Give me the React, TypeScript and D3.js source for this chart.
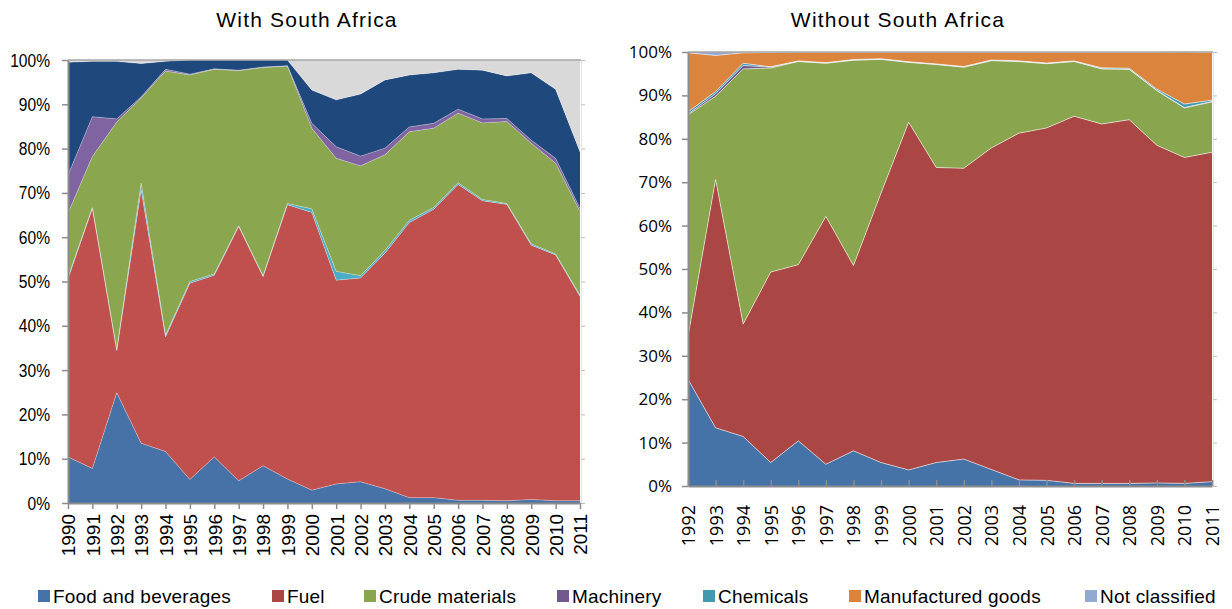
import React, { useEffect, useRef } from 'react';
import * as d3 from 'd3';

// years on the two x axes
const yearsWith = [1990, 1991, 1992, 1993, 1994, 1995, 1996, 1997, 1998, 1999, 2000,
  2001, 2002, 2003, 2004, 2005, 2006, 2007, 2008, 2009, 2010, 2011];
const yearsWithout = [1992, 1993, 1994, 1995, 1996, 1997, 1998, 1999, 2000,
  2001, 2002, 2003, 2004, 2005, 2006, 2007, 2008, 2009, 2010, 2011];
const yTicks = [0, 10, 20, 30, 40, 50, 60, 70, 80, 90, 100];

// shares (%) - with South Africa
const foodWith = [10.4, 7.8, 24.9, 13.5, 11.6, 5.3, 10.4, 5.0, 8.4, 5.4, 2.9, 4.3, 4.8, 3.2, 1.2, 1.2, 0.6, 0.6, 0.5, 0.8, 0.5, 0.5];
const fuelWith = [40.2, 58.7, 9.5, 57.2, 25.9, 44.3, 41.0, 57.4, 42.7, 61.9, 62.7, 46.0, 46.0, 53.2, 62.1, 65.1, 71.3, 67.6, 66.9, 57.4, 55.5, 46.1];
const chemWith = [0.4, 0.2, 0.2, 1.5, 0.4, 0.4, 0.3, 0.2, 0.2, 0.3, 0.8, 2.0, 0.5, 0.6, 0.5, 0.4, 0.4, 0.3, 0.2, 0.3, 0.2, 0.3];
const crudeWith = [14.4, 11.5, 51.4, 19.2, 59.6, 46.6, 46.2, 35.0, 47.0, 31.0, 18.2, 25.5, 24.8, 21.6, 20.0, 17.9, 15.7, 17.3, 18.5, 22.7, 20.5, 18.9];
const machWith = [8.6, 9.0, 0.7, 0.3, 0.4, 0.2, 0.1, 0.1, 0.1, 0.1, 1.1, 2.6, 2.2, 1.5, 1.1, 1.1, 0.9, 0.9, 0.7, 0.7, 1.1, 0.7];
const manufWith = [25.5, 12.5, 13.0, 7.5, 1.8, 3.2, 2.0, 2.3, 1.6, 1.3, 7.5, 10.6, 14.0, 15.4, 11.7, 11.4, 9.0, 11.0, 9.6, 15.2, 15.6, 12.8];
const otherWith = [0.5, 0.3, 0.3, 0.8, 0.3, 0, 0, 0, 0, 0, 6.8, 9.0, 7.7, 4.5, 3.4, 2.9, 2.1, 2.3, 3.6, 2.9, 6.6, 20.7];

// shares (%) - without South Africa
const foodWithout = [24.6, 13.4, 11.4, 5.4, 10.4, 5.0, 8.1, 5.4, 3.7, 5.4, 6.2, 3.8, 1.4, 1.3, 0.6, 0.6, 0.6, 0.7, 0.6, 1.0];
const fuelWithout = [9.8, 57.2, 25.9, 43.9, 40.6, 57.1, 42.7, 62.1, 80.1, 68.0, 67.0, 74.1, 79.9, 81.2, 84.6, 82.8, 83.8, 77.8, 75.1, 75.9];
const crudeWithout = [51.1, 19.2, 58.8, 47.0, 46.8, 35.3, 47.3, 30.8, 13.8, 23.7, 23.3, 20.1, 16.5, 14.8, 12.6, 12.7, 11.6, 12.6, 11.4, 11.6];
const machWithout = [0.2, 0.6, 0.8, 0.2, 0.05, 0.05, 0.05, 0.05, 0.05, 0.05, 0.05, 0.05, 0.05, 0.05, 0.05, 0.05, 0.05, 0.05, 0.1, 0.1];
const chemWithout = [0.5, 0.5, 0.5, 0.1, 0.1, 0.1, 0.1, 0.1, 0.1, 0.1, 0.1, 0.1, 0.1, 0.1, 0.1, 0.2, 0.2, 0.3, 0.8, 0.3];
const manufWithout = [13.6, 8.3, 2.4, 3.3, 2.0, 2.4, 1.7, 1.5, 2.2, 2.7, 3.3, 1.8, 2.0, 2.5, 2.0, 3.6, 3.7, 8.5, 12.0, 11.0];
const otherWithout = [0.2, 0.8, 0.2, 0.1, 0.05, 0.05, 0.05, 0.05, 0.05, 0.05, 0.05, 0.05, 0.05, 0.05, 0.05, 0.05, 0.05, 0.05, 0.05, 0.05];

const legendNames = ['Food and beverages', 'Fuel', 'Crude materials', 'Machinery', 'Chemicals', 'Manufactured goods', 'Not classified'];
const legendColors = ['#4572a7', '#aa4643', '#89a54e', '#71588f', '#4198af', '#db843d', '#93a9cf'];

const leftChart = {
  title: 'With South Africa',
  titleX: 307, years: yearsWith,
  left: 68, right: 580, top: 60, bottom: 503,
  font: '"Liberation Sans", Arial, sans-serif',
  xFont: '"Liberation Sans", Arial, sans-serif',
  yFontSize: 19, yNarrow: 0.82, xFontSize: 19, yPad: 12, xLabelGap: 11, xTickIn: false,
  edge: 'rgba(255,255,255,0.45)',
  layers: [
    { key: 'food', color: '#4672a8', values: foodWith },
    { key: 'fuel', color: '#c0504d', values: fuelWith },
    { key: 'chem', color: '#4bacc6', values: chemWith },
    { key: 'crude', color: '#8aa64f', values: crudeWith },
    { key: 'mach', color: '#8064a2', values: machWith },
    { key: 'manuf', color: '#1f497d', values: manufWith },
    { key: 'other', color: '#d9d9d9', values: otherWith },
  ],
};

const rightChart = {
  title: 'Without South Africa',
  titleX: 898, years: yearsWithout,
  left: 688, right: 1212, top: 52, bottom: 486,
  font: '"Open Sans", sans-serif',
  xFont: '"Open Sans", sans-serif',
  yFontSize: 17, yNarrow: 1, xFontSize: 18, yPad: 10, xLabelGap: 19, xTickIn: true,
  edge: 'rgba(255,255,255,0.8)',
  layers: [
    { key: 'food', color: legendColors[0], values: foodWithout },
    { key: 'fuel', color: legendColors[1], values: fuelWithout },
    { key: 'crude', color: legendColors[2], values: crudeWithout },
    { key: 'mach', color: legendColors[3], values: machWithout },
    { key: 'chem', color: legendColors[4], values: chemWithout },
    { key: 'manuf', color: legendColors[5], values: manufWithout },
    { key: 'other', color: legendColors[6], values: otherWithout },
  ],
};

function drawChart(svg, cfg) {
  const g = svg.append('g');
  const x = d3.scaleLinear()
    .domain([cfg.years[0], cfg.years[cfg.years.length - 1]])
    .range([cfg.left, cfg.right]);
  const y = d3.scaleLinear().domain([0, 100]).range([cfg.bottom, cfg.top]);

  const table = cfg.years.map((yr, i) => {
    const row = { year: yr };
    cfg.layers.forEach(l => { row[l.key] = l.values[i]; });
    return row;
  });
  const series = d3.stack().keys(cfg.layers.map(l => l.key))(table);

  const area = d3.area()
    .x(d => x(d.data.year))
    .y0(d => y(d[0]))
    .y1(d => y(d[1]));

  g.selectAll('.layer')
    .data(series)
    .join('path')
    .attr('class', 'layer')
    .attr('d', area)
    .attr('fill', (d, i) => cfg.layers[i].color);

  // thin light separators between layers
  const topLine = d3.line()
    .x(d => x(d.data.year))
    .y(d => y(d[1]));
  g.selectAll('.edge')
    .data(series.slice(0, series.length - 1))
    .join('path')
    .attr('class', 'edge')
    .attr('d', topLine)
    .attr('fill', 'none')
    .attr('stroke', cfg.edge)
    .attr('stroke-width', 0.7);

  // top border
  g.append('line')
    .attr('x1', cfg.left).attr('x2', cfg.right + 1)
    .attr('y1', cfg.top).attr('y2', cfg.top)
    .attr('stroke', '#a6a6a6').attr('stroke-width', 1.5);

  // right side ticks
  const rightAxis = d3.axisRight(y).tickValues(yTicks).tickSize(4).tickSizeOuter(0).tickFormat(() => '');
  const ra = g.append('g').attr('transform', `translate(${cfg.right + 1},0)`).call(rightAxis);
  ra.select('.domain').attr('stroke', '#e6e6e6');
  ra.selectAll('line').attr('stroke', '#bfbfbf');

  // y axis
  const yAxis = d3.axisLeft(y)
    .tickValues(yTicks)
    .tickSize(6)
    .tickSizeOuter(0)
    .tickPadding(cfg.yPad)
    .tickFormat(d => d + '%');
  const ya = g.append('g').attr('transform', `translate(${cfg.left},0)`).call(yAxis);
  ya.select('.domain').attr('stroke', '#8c8c8c').attr('stroke-width', 2);
  ya.selectAll('line').attr('stroke', '#8c8c8c').attr('stroke-width', 1.5);
  ya.selectAll('text')
    .attr('x', -(6 + cfg.yPad) / cfg.yNarrow)
    .attr('transform', `scale(${cfg.yNarrow},1)`)
    .attr('font-family', cfg.font)
    .attr('font-size', cfg.yFontSize)
    .attr('fill', '#000');

  // x axis
  const xAxis = d3.axisBottom(x)
    .tickValues(cfg.years)
    .tickSize(cfg.xTickIn ? -6 : 6)
    .tickSizeOuter(0)
    .tickFormat(d => String(d));
  const xa = g.append('g').attr('transform', `translate(0,${cfg.bottom})`).call(xAxis);
  xa.select('.domain').attr('stroke', '#8c8c8c').attr('stroke-width', 2);
  xa.selectAll('line').attr('stroke', '#8c8c8c').attr('stroke-width', 1.5);
  xa.selectAll('text')
    .attr('transform', 'rotate(-90)')
    .attr('text-anchor', 'end')
    .attr('x', -cfg.xLabelGap)
    .attr('y', 0)
    .attr('dy', '0.36em')
    .attr('font-family', cfg.xFont)
    .attr('font-size', cfg.xFontSize)
    .attr('fill', '#000');

  g.append('text')
    .attr('x', cfg.titleX)
    .attr('y', 27)
    .attr('text-anchor', 'middle')
    .attr('font-family', '"Liberation Sans", Arial, sans-serif')
    .attr('font-size', 21)
    .attr('letter-spacing', 1.2)
    .attr('fill', '#000')
    .text(cfg.title);
}

export default function App() {
  const svgRef = useRef(null);

  useEffect(() => {
    const svg = d3.select(svgRef.current);
    svg.selectAll('*').remove();
    drawChart(svg, leftChart);
    drawChart(svg, rightChart);

    // legend
    const legendX = [38, 272, 364, 557, 703, 849, 1085];
    const lg = svg.append('g');
    const items = lg.selectAll('g')
      .data(legendNames)
      .join('g')
      .attr('transform', (d, i) => `translate(${legendX[i]},590)`);
    items.append('rect')
      .attr('width', 12).attr('height', 12)
      .attr('fill', (d, i) => legendColors[i]);
    items.append('text')
      .attr('x', 15).attr('y', 13)
      .attr('font-family', '"Liberation Sans", Arial, sans-serif')
      .attr('font-size', 19)
      .attr('letter-spacing', 0.2)
      .attr('fill', '#000')
      .text(d => d);
  }, []);

  return (
    <svg
      ref={svgRef}
      width={1232}
      height={609}
      style={{ position: 'absolute', left: 0, top: 0, background: '#fff' }}
    />
  );
}
